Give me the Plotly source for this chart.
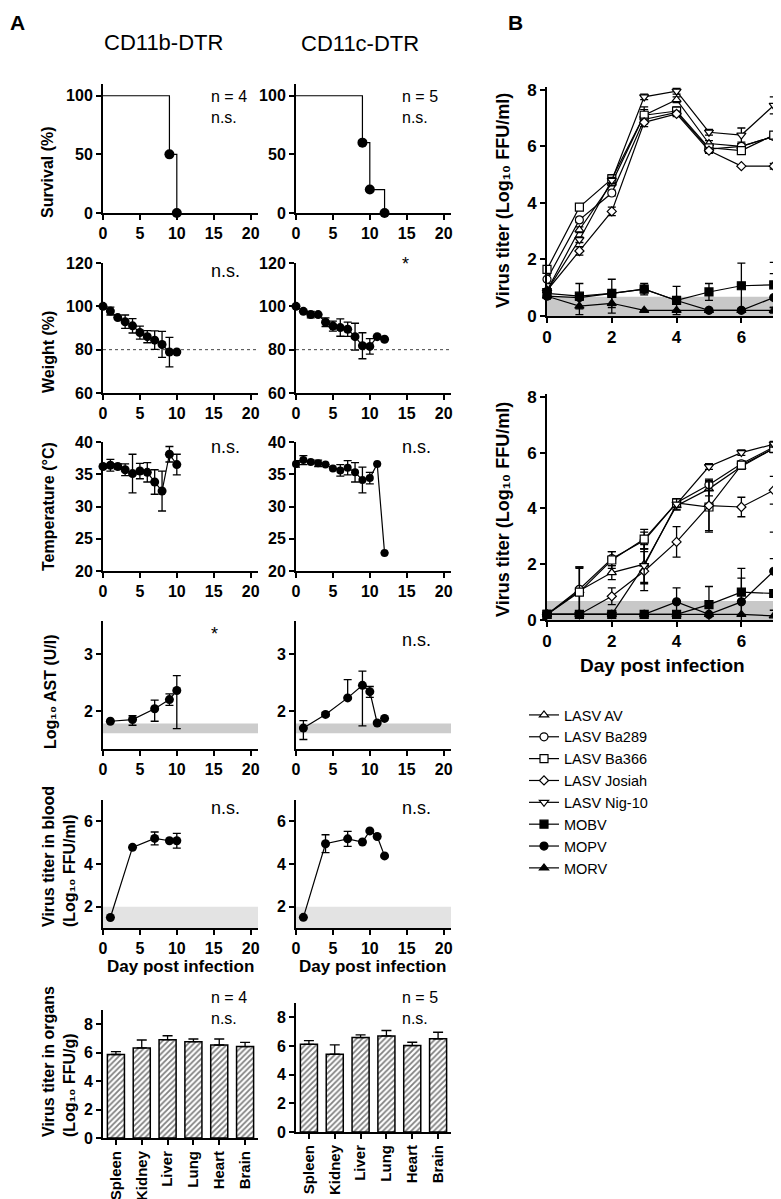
import plotly.graph_objects as go

# page body has an 8 px margin, so the figure is offset by that amount
OFF = 8
W, H = 781 - OFF, 1199

# ---------------- panel A data ----------------
surv_b_days = [0, 9, 10]
surv_b = [100, 50, 0]
surv_c_days = [0, 9, 10, 12]
surv_c = [100, 60, 20, 0]

weight_b_days = list(range(0, 11))
weight_b = [100, 97.8, 94.8, 92.9, 91.0, 87.9, 86.0, 84.4, 82.4, 78.9, 78.9]
weight_b_err = [0, 1.8, 0, 3.1, 3.3, 3.0, 2.8, 4.3, 6.0, 6.8, 0]
weight_c_days = list(range(0, 13))
weight_c = [100, 97.7, 96.2, 96.2, 92.7, 90.9, 90.2, 89.4, 86.0, 81.8, 81.5, 86.0, 84.8]
weight_c_err = [0, 0, 1.5, 0, 2.0, 2.3, 4.0, 3.3, 6.2, 6.0, 3.6, 0, 0]
weight_cutoff = 80

temp_b_days = list(range(0, 11))
temp_b = [36.2, 36.4, 36.2, 35.7, 35.1, 35.5, 35.3, 33.8, 32.4, 38.1, 36.5]
temp_b_err = [0.3, 0.9, 0.4, 0.9, 3.0, 1.2, 1.5, 1.9, 3.1, 1.2, 1.6]
temp_c_days = list(range(0, 13))
temp_c = [36.6, 37.2, 36.9, 36.7, 36.5, 35.9, 35.6, 36.0, 35.3, 34.1, 34.4, 36.6, 22.8]
temp_c_err = [0.5, 0.7, 0, 0.5, 0, 0, 0.9, 1.1, 1.5, 2.0, 0.9, 0, 0]

ast_b_days = [1, 4, 7, 9, 10]
ast_b = [1.82, 1.85, 2.04, 2.20, 2.36]
ast_b_up = [0, 0.07, 0.15, 0.10, 0.26]
ast_b_dn = [0, 0.10, 0.22, 0.10, 0.67]
ast_c_days = [1, 4, 7, 9, 10, 11, 12]
ast_c = [1.70, 1.94, 2.23, 2.45, 2.34, 1.79, 1.87]
ast_c_up = [0.13, 0.03, 0.32, 0.25, 0.09, 0, 0]
ast_c_dn = [0.20, 0.03, 0, 0.71, 0.10, 0, 0]
ast_lod = [1.61, 1.78]

blood_b_days = [1, 4, 7, 9, 10]
blood_b = [1.49, 4.78, 5.20, 5.09, 5.09]
blood_b_err = [0, 0, 0.30, 0, 0.35]
blood_c_days = [1, 4, 7, 9, 10, 11, 12]
blood_c = [1.50, 4.95, 5.18, 5.03, 5.55, 5.29, 4.38]
blood_c_err = [0, 0.42, 0.35, 0, 0, 0, 0]
blood_lod = [1, 2]

organs = ["Spleen", "Kidney", "Liver", "Lung", "Heart", "Brain"]
organ_b = [5.87, 6.33, 6.91, 6.77, 6.54, 6.43]
organ_b_err = [0.21, 0.56, 0.28, 0.19, 0.42, 0.30]
organ_c = [6.12, 5.43, 6.59, 6.70, 6.03, 6.50]
organ_c_err = [0.26, 0.65, 0.18, 0.38, 0.23, 0.46]

# ---------------- panel B data ----------------
days_b = list(range(0, 8))
strains = ["LASV AV", "LASV Ba289", "LASV Ba366", "LASV Josiah", "LASV Nig-10", "MOBV", "MOPV", "MORV"]
symbols = ["triangle-up", "circle", "square", "diamond", "triangle-down", "square", "circle", "triangle-up"]
filled = [False, False, False, False, False, True, True, True]

titer_top = [
    [0.9, 3.05, 4.7, 7.1, 7.65, 6.1, 6.0, 6.35],
    [1.3, 3.4, 4.35, 6.95, 7.2, 5.9, 6.0, 6.35],
    [1.65, 3.85, 4.85, 7.1, 7.25, 5.95, 5.85, 6.4],
    [0.9, 2.3, 3.7, 6.85, 7.15, 5.85, 5.3, 5.3],
    [0.9, 2.7, 4.8, 7.75, 7.95, 6.5, 6.4, 7.45],
    [0.8, 0.7, 0.8, 0.95, 0.55, 0.85, 1.07, 1.1],
    [0.7, 0.65, 0.8, 0.95, 0.55, 0.2, 0.2, 0.65],
    [0.7, 0.35, 0.45, 0.2, 0.2, 0.2, 0.2, 0.2],
]
titer_top_err = [
    [0, 0.1, 0.1, 0.2, 0.1, 0.1, 0.1, 0.1],
    [0.15, 0.1, 0.1, 0.1, 0.1, 0.1, 0.1, 0.1],
    [0.1, 0.1, 0.15, 0.3, 0.15, 0.1, 0.1, 0.1],
    [0, 0.15, 0.15, 0.15, 0.1, 0.1, 0, 0.1],
    [0, 0.1, 0.1, 0.1, 0.1, 0.1, 0.25, 0.3],
    [0.2, 0.45, 0.5, 0.2, 0.5, 0.3, 0.8, 0.8],
    [0, 0.1, 0, 0, 0, 0, 0, 0.85],
    [0, 0.3, 0.35, 0, 0, 0, 0, 0.1],
]
titer_bot = [
    [0.2, 1.05, 1.7, 2.0, 4.1, 4.7, 5.5, 6.15],
    [0.2, 1.1, 2.2, 2.85, 4.2, 4.85, 5.6, 6.2],
    [0.2, 1.0, 2.15, 2.9, 4.2, 4.05, 5.55, 6.15],
    [0.2, 0.2, 0.85, 1.75, 2.8, 4.1, 4.05, 4.65],
    [0.2, 0.2, 0.2, 1.95, 4.15, 5.5, 6.0, 6.3],
    [0.2, 0.2, 0.2, 0.2, 0.2, 0.55, 1.0, 0.95],
    [0.2, 0.2, 0.2, 0.2, 0.65, 0.2, 0.65, 1.75],
    [0.2, 0.2, 0.2, 0.2, 0.2, 0.2, 0.2, 0.15],
]
titer_bot_err = [
    [0, 0.85, 0.25, 0.7, 0.15, 0.25, 0.1, 0.1],
    [0, 0.8, 0.25, 0.3, 0.1, 0.2, 0.1, 0.1],
    [0, 0.85, 0.3, 0.35, 0.1, 0.9, 0.1, 0.15],
    [0, 0, 0.3, 0.7, 0.55, 0.9, 0.35, 0.5],
    [0, 0, 0, 0.6, 0.2, 0.1, 0.1, 0.1],
    [0, 0, 0, 0, 0, 0.65, 0.85, 1.25],
    [0, 0, 0, 0, 0.5, 0, 0.85, 1.4],
    [0, 0, 0, 0, 0, 0, 0, 0],
]
titer_lod = [0, 0.68]

FONT = "Liberation Sans"


def px(x):
    return (x - OFF) / W


def py(y):
    return 1 - (y - OFF) / H


def xname(n):
    return "x" if n == 1 else "x%d" % n


def yname(n):
    return "y" if n == 1 else "y%d" % n


def axis_base(size):
    return dict(showline=True, linecolor="black", linewidth=2, ticks="outside",
                ticklen=5, tickwidth=2, tickcolor="black", showgrid=False,
                zeroline=False, fixedrange=True, automargin=False,
                tickfont=dict(family=FONT, size=size, color="black", weight="bold"))


layout_axes = {}


def make_axes(n, xpix, ypix, xrange, yrange, xticks, yticks, fsize=16, cats=None):
    xkey = "xaxis" if n == 1 else "xaxis%d" % n
    ykey = "yaxis" if n == 1 else "yaxis%d" % n
    xa = axis_base(fsize)
    xa.update(domain=[px(xpix[0]), px(xpix[1])], anchor=yname(n))
    if cats is None:
        xa.update(range=xrange, tickvals=xticks)
    else:
        xa.update(type="category", range=xrange, tickangle=-90)
        xa["tickfont"] = dict(family=FONT, size=15, color="black", weight="bold")
    ya = axis_base(fsize)
    ya.update(domain=[py(ypix[1]), py(ypix[0])], anchor=xname(n),
              range=yrange, tickvals=yticks)
    layout_axes[xkey] = xa
    layout_axes[ykey] = ya


C1 = (103, 258)
C2 = (296, 451)
CB = (547, 777)
dticks = [0, 5, 10, 15, 20]

make_axes(1, C1, (84, 213), [0, 21], [0, 110], dticks, [0, 50, 100])
make_axes(2, C2, (84, 213), [0, 21], [0, 110], dticks, [0, 50, 100])
make_axes(3, C1, (263, 393), [0, 21], [60, 120], dticks, [60, 80, 100, 120])
make_axes(4, C2, (263, 393), [0, 21], [60, 120], dticks, [60, 80, 100, 120])
make_axes(5, C1, (442, 571), [0, 21], [20, 40], dticks, [20, 25, 30, 35, 40])
make_axes(6, C2, (442, 571), [0, 21], [20, 40], dticks, [20, 25, 30, 35, 40])
make_axes(7, C1, (621, 749), [0, 21], [1.333, 3.58], dticks, [2, 3])
make_axes(8, C2, (621, 749), [0, 21], [1.333, 3.58], dticks, [2, 3])
make_axes(9, C1, (800, 928), [0, 21], [1, 7], dticks, [2, 4, 6])
make_axes(10, C2, (800, 928), [0, 21], [1, 7], dticks, [2, 4, 6])
make_axes(11, C1, (1010, 1138), [-0.5, 5.5], [0, 9], None, [0, 2, 4, 6, 8], cats=organs)
make_axes(12, C2, (1003, 1132), [-0.5, 5.5], [0, 9], None, [0, 2, 4, 6, 8], cats=organs)
make_axes(13, CB, (87, 316), [0, 7.1], [0, 8.1], [0, 2, 4, 6], [0, 2, 4, 6, 8], fsize=17)
make_axes(14, CB, (394, 620), [0, 7.1], [0, 8.1], [0, 2, 4, 6], [0, 2, 4, 6, 8], fsize=17)

fig = go.Figure()
LINE = dict(color="black", width=1.2)


def err(up, dn=None, w=4):
    if dn is None:
        return dict(type="data", array=up, color="black", thickness=1.3, width=w)
    return dict(type="data", array=up, arrayminus=dn, symmetric=False,
                color="black", thickness=1.3, width=w)


def series(n, x, y, e=None, size=9):
    fig.add_trace(go.Scatter(x=x, y=y, mode="lines+markers", xaxis=xname(n), yaxis=yname(n),
                             line=LINE, marker=dict(symbol="circle", size=size, color="black"),
                             error_y=e, cliponaxis=False, showlegend=False))


# survival (step curves)
for n, d, s in [(1, surv_b_days, surv_b), (2, surv_c_days, surv_c)]:
    fig.add_trace(go.Scatter(x=d, y=s, mode="lines", line=dict(color="black", width=1.2, shape="hv"),
                             xaxis=xname(n), yaxis=yname(n), showlegend=False, cliponaxis=False))
    fig.add_trace(go.Scatter(x=d[1:], y=s[1:], mode="markers", marker=dict(size=10, color="black"),
                             xaxis=xname(n), yaxis=yname(n), showlegend=False, cliponaxis=False))

series(3, weight_b_days, weight_b, err(weight_b_err))
series(4, weight_c_days, weight_c, err(weight_c_err))
series(5, temp_b_days, temp_b, err(temp_b_err))
series(6, temp_c_days, temp_c, err(temp_c_err), size=8)
series(7, ast_b_days, ast_b, err(ast_b_up, ast_b_dn))
series(8, ast_c_days, ast_c, err(ast_c_up, ast_c_dn))
series(9, blood_b_days, blood_b, err(blood_b_err))
series(10, blood_c_days, blood_c, err(blood_c_err))

for n, vals, e in [(11, organ_b, organ_b_err), (12, organ_c, organ_c_err)]:
    fig.add_trace(go.Bar(x=organs, y=vals, width=0.66, xaxis=xname(n), yaxis=yname(n),
                         marker=dict(color="white", line=dict(color="black", width=1.5),
                                     pattern=dict(shape="/", fgcolor="black", bgcolor="white",
                                                  size=4, solidity=0.45)),
                         error_y=err(e, [0] * len(e), w=5), showlegend=False))

# panel B
for n, data, errs, show in [(13, titer_top, titer_top_err, True), (14, titer_bot, titer_bot_err, False)]:
    for i, name in enumerate(strains):
        fig.add_trace(go.Scatter(
            x=days_b, y=data[i], name=name, mode="lines+markers",
            xaxis=xname(n), yaxis=yname(n), line=LINE,
            marker=dict(symbol=symbols[i], size=8 if symbols[i] != "diamond" else 7,
                        color="black" if filled[i] else "white",
                        line=dict(color="black", width=1.2)),
            error_y=err(errs[i], w=4), cliponaxis=False, showlegend=show))

shapes = []
for n in (3, 4):
    shapes.append(dict(type="line", xref=xname(n) + " domain", x0=0, x1=1, yref=yname(n),
                       y0=weight_cutoff, y1=weight_cutoff, line=dict(color="#444", width=1, dash="dot"),
                       layer="below"))
for n in (7, 8):
    shapes.append(dict(type="rect", xref=xname(n) + " domain", x0=0, x1=1, yref=yname(n),
                       y0=ast_lod[0], y1=ast_lod[1], fillcolor="#cccccc", line=dict(width=0), layer="below"))
for n in (9, 10):
    shapes.append(dict(type="rect", xref=xname(n) + " domain", x0=0, x1=1, yref=yname(n),
                       y0=blood_lod[0], y1=blood_lod[1], fillcolor="#e3e3e3", line=dict(width=0), layer="below"))
for n in (13, 14):
    shapes.append(dict(type="rect", xref=xname(n) + " domain", x0=0, x1=1, yref=yname(n),
                       y0=titer_lod[0], y1=titer_lod[1], fillcolor="#c8c8c8", line=dict(width=0), layer="below"))

annotations = []


def note(text, x, y, size=18, bold=False, angle=0, xanchor="center", yanchor="middle"):
    annotations.append(dict(text=text, x=px(x), y=py(y), xref="paper", yref="paper",
                            showarrow=False, textangle=angle, xanchor=xanchor, yanchor=yanchor,
                            align="left",
                            font=dict(family=FONT, size=size, color="black",
                                      weight="bold" if bold else "normal")))


note("A", 8, 9, size=21, bold=True, xanchor="left", yanchor="top")
note("B", 515, 9, size=21, bold=True, yanchor="top")
note("CD11b-DTR", 163, 42, size=22)
note("CD11c-DTR", 360, 43, size=22)

# y-axis titles, panel A
note("Survival (%)", 48, 172, size=16, bold=True, angle=-90)
note("Weight (%)", 48, 352, size=16, bold=True, angle=-90)
note("Temperature (°C)", 48, 507, size=16, bold=True, angle=-90)
note("Log₁₀ AST (U/l)", 50, 692, size=16, bold=True, angle=-90)
note("Virus titer in blood<br>(Log₁₀ FFU/ml)", 59, 857, size=16, bold=True, angle=-90)
note("Virus titer in organs<br>(Log₁₀ FFU/g)", 59, 1062, size=16, bold=True, angle=-90)
note("Day post infection", 180, 966, size=17, bold=True)
note("Day post infection", 372, 966, size=17, bold=True)

# panel B titles
note("Virus titer (Log₁₀ FFU/ml)", 503, 201, size=18, bold=True, angle=-90)
note("Virus titer (Log₁₀ FFU/ml)", 503, 510, size=18, bold=True, angle=-90)
note("Day post infection", 662, 665, size=19, bold=True)

# statistics labels
for x0, n_txt in ((209, "n = 4"), (400, "n = 5")):
    note(n_txt + "<br>n.s.", x0, 86, size=16, xanchor="left", yanchor="top")
    note(n_txt + "<br>n.s.", x0, 987, size=16, xanchor="left", yanchor="top")
    note("n.s.", x0, 447, xanchor="left")
    note("n.s.", x0, 808, xanchor="left")
note("n.s.", 209, 271, xanchor="left")
note("*", 400, 264, xanchor="left")
note("*", 209, 634, xanchor="left")
note("n.s.", 400, 640, xanchor="left")

fig.update_layout(
    width=W, height=H, margin=dict(l=0, r=0, t=0, b=0, autoexpand=False),
    plot_bgcolor="white", paper_bgcolor="white",
    font=dict(family=FONT, color="black"),
    shapes=shapes, annotations=annotations, bargap=0.3,
    legend=dict(x=px(524), y=py(699), xanchor="left", yanchor="top",
                font=dict(family=FONT, size=14.5, color="black"),
                bgcolor="rgba(0,0,0,0)", itemclick=False, itemdoubleclick=False),
    **layout_axes,
)

fig.write_html("out.html")
